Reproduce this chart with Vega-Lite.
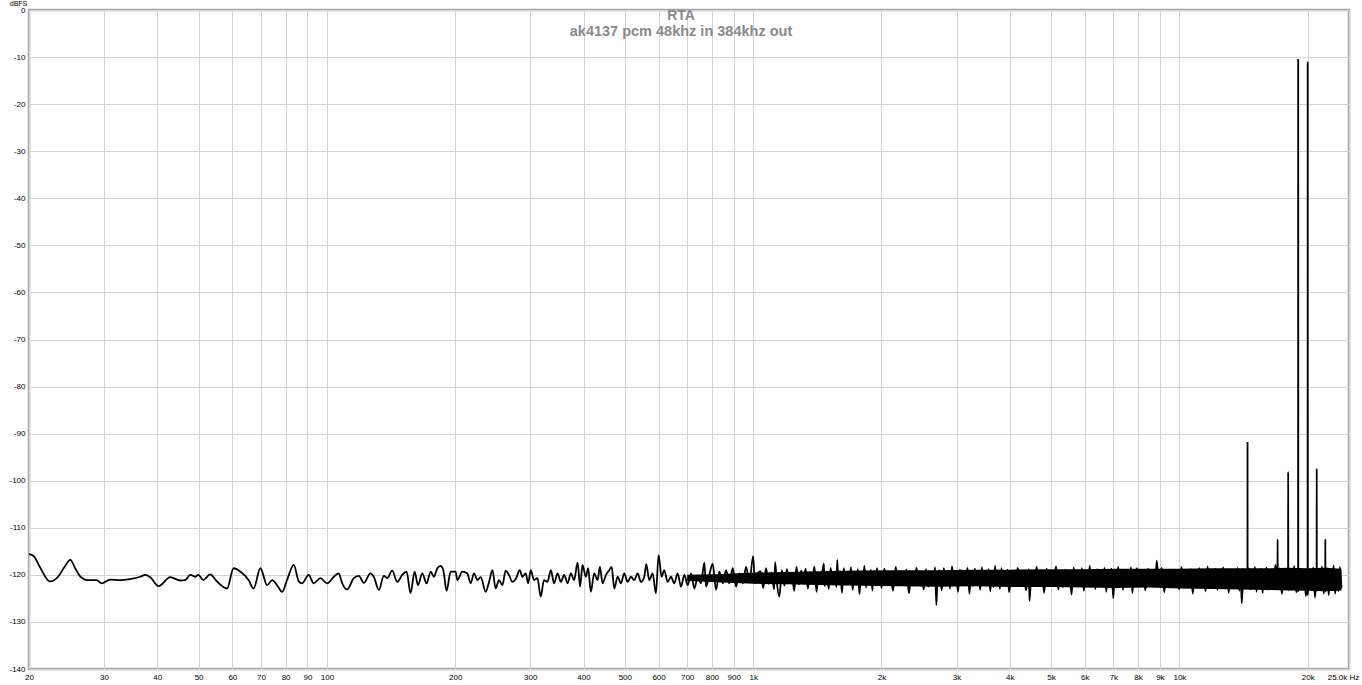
{
"$schema": "https://vega.github.io/schema/vega-lite/v6.json",
"width": 1320,
"height": 659,
"autosize": {"type": "none"},
"padding": {"left": 29, "top": 10, "right": 13, "bottom": 16},
"background": "#ffffff",
"config": {"view": {"stroke": "#a8a8a8", "strokeWidth": 2.5}, "font": "Liberation Sans"},
"title": {"text": "RTA", "subtitle": "ak4137 pcm 48khz in 384khz out", "anchor": "middle", "frame": "group", "offset": -39, "dx": -8, "color": "#8a8a8a", "subtitleColor": "#8a8a8a", "font": "Liberation Sans", "subtitleFont": "Liberation Sans", "fontSize": 14, "subtitleFontSize": 14.5, "fontWeight": "bold", "subtitleFontWeight": "bold", "subtitlePadding": 2},
"encoding": {
"x": {"field": "f", "type": "quantitative", "scale": {"type": "log", "domain": [20, 25000], "nice": false},
"axis": {"title": null, "values": [20,30,40,50,60,70,80,90,100,200,300,400,500,600,700,800,900,1000,2000,3000,4000,5000,6000,7000,8000,9000,10000,20000,25000], "labelExpr": "datum.value == 25000 ? '25.0k Hz' : (datum.value >= 1000 ? (datum.value / 1000) + 'k' : datum.value + '')", "grid": true, "gridColor": "#d3d3d3", "gridWidth": 1, "ticks": false, "domain": false, "labelFontSize": 8, "labelColor": "#000000", "labelPadding": 4, "labelOverlap": false, "labelFlush": false, "labelBound": false, "labelFont": "Liberation Sans", "labelOffset": {"condition": {"test": "datum.value == 25000", "value": -6}, "value": 0}}}
},
"layer": [
{
"data": {"values": [
{"f":700,"hi":-120.0,"lo":-121.3},{"f":850,"hi":-119.8,"lo":-121.6},{"f":1000,"hi":-119.5,"lo":-121.9},{"f":1200,"hi":-119.4,"lo":-122.0},{"f":1500,"hi":-119.2,"lo":-122.2},{"f":1800,"hi":-119.1,"lo":-122.3},{"f":2200,"hi":-119.0,"lo":-122.4},{"f":2700,"hi":-119.0,"lo":-122.5},{"f":3300,"hi":-118.9,"lo":-122.4},{"f":4000,"hi":-118.9,"lo":-122.6},{"f":5000,"hi":-118.8,"lo":-122.6},{"f":6000,"hi":-118.8,"lo":-122.7},{"f":7000,"hi":-118.7,"lo":-122.8},{"f":8500,"hi":-118.7,"lo":-122.7},{"f":10000,"hi":-118.7,"lo":-122.9},{"f":12000,"hi":-118.6,"lo":-123.0},{"f":14000,"hi":-118.6,"lo":-123.1},{"f":16000,"hi":-118.6,"lo":-123.2},{"f":18000,"hi":-118.5,"lo":-123.3},{"f":20000,"hi":-118.6,"lo":-123.4},{"f":22000,"hi":-118.5,"lo":-123.5},{"f":24000,"hi":-118.7,"lo":-123.3}
]},
"mark": {"type": "area", "color": "#000000", "clip": true},
"encoding": {
"y": {"field": "hi", "type": "quantitative", "scale": {"domain": [-140, 0], "nice": false},
"axis": {"title": "dBFS", "titleAngle": 0, "titleX": -11, "titleY": -5, "titleAlign": "center", "titleBaseline": "alphabetic", "titleFontSize": 7, "titleFontWeight": "normal", "titleColor": "#000000", "titleFont": "Liberation Sans", "values": [0,-10,-20,-30,-40,-50,-60,-70,-80,-90,-100,-110,-120,-130,-140], "labelExpr": "'' + datum.value", "grid": true, "gridColor": "#d3d3d3", "gridWidth": 1, "ticks": false, "domain": false, "labelFontSize": 8, "labelColor": "#000000", "labelPadding": 4, "labelOverlap": false, "labelFont": "Liberation Sans"}},
"y2": {"field": "lo"}
}
},
{
"data": {"values": [
{"f":20,"v":-115.6},{"f":20.5,"v":-116.0},{"f":21.2,"v":-118.3},{"f":22.4,"v":-121.4},{"f":23.4,"v":-120.4},{"f":24.2,"v":-118.4},{"f":25.0,"v":-116.8},{"f":25.7,"v":-118.7},{"f":26.4,"v":-120.4},{"f":27.3,"v":-121.1},{"f":28.8,"v":-121.1},{"f":29.6,"v":-121.8},{"f":31.0,"v":-121.0},{"f":32.7,"v":-121.1},{"f":34.5,"v":-120.9},{"f":36.5,"v":-120.4},{"f":37.5,"v":-120.0},{"f":38.5,"v":-120.5},{"f":40.3,"v":-122.4},{"f":42.9,"v":-120.5},{"f":45.3,"v":-121.2},{"f":46.5,"v":-121.1},{"f":47.8,"v":-120.0},{"f":49.1,"v":-120.4},{"f":49.9,"v":-120.0},{"f":51.3,"v":-121.1},{"f":53.2,"v":-119.9},{"f":55.2,"v":-121.4},{"f":58.3,"v":-122.9},{"f":60.4,"v":-118.6},{"f":62.6,"v":-119.3},{"f":65.5,"v":-121.1},{"f":67.3,"v":-122.9},{"f":69.8,"v":-118.6},{"f":72.4,"v":-122.2},{"f":74.4,"v":-121.1},{"f":76.4,"v":-122.2},{"f":78.5,"v":-123.6},{"f":80.6,"v":-121.1},{"f":83.6,"v":-117.9},{"f":85.9,"v":-121.4},{"f":87.4,"v":-121.8},{"f":90.6,"v":-120.0},{"f":93.1,"v":-121.8},{"f":96.5,"v":-120.7},
{"f":100.1,"v":-121.8},{"f":103.8,"v":-120.4},{"f":106.6,"v":-119.7},{"f":108.6,"v":-121.8},{"f":111.6,"v":-123.1},{"f":115.6,"v":-120.7},{"f":118.8,"v":-120.2},{"f":122.1,"v":-121.7},{"f":126.5,"v":-119.7},{"f":128.8,"v":-120.4},{"f":132.4,"v":-123.2},{"f":136.0,"v":-120.2},{"f":138.5,"v":-120.7},{"f":142.3,"v":-119.1},{"f":146.2,"v":-121.5},{"f":150.2,"v":-120.0},{"f":153.8,"v":-119.3},{"f":157.1,"v":-123.9},{"f":160.6,"v":-119.3},{"f":163.5,"v":-122.2},{"f":167.4,"v":-119.7},{"f":171.3,"v":-121.8},{"f":175.1,"v":-119.3},{"f":178.3,"v":-120.4},{"f":181.6,"v":-118.6},{"f":184.8,"v":-118.1},{"f":187.5,"v":-119.0},{"f":190.9,"v":-123.4},{"f":195.1,"v":-119.3},{"f":200.4,"v":-119.3},{"f":202.3,"v":-121.1},{"f":207.8,"v":-119.3},{"f":213.5,"v":-119.7},{"f":217.4,"v":-121.8},{"f":221.3,"v":-119.7},{"f":225.5,"v":-121.1},{"f":229.5,"v":-120.5},{"f":235.8,"v":-123.6},{"f":240.1,"v":-121.5},{"f":244.5,"v":-119.0},{"f":248.8,"v":-122.9},{"f":253.3,"v":-121.1},{"f":258.0,"v":-122.2},{"f":262.6,"v":-119.1},{"f":267.3,"v":-120.0},{"f":272.3,"v":-121.5},{"f":277.3,"v":-120.9},{"f":283.4,"v":-119.0},{"f":287.6,"v":-120.4},{"f":292.8,"v":-119.7},{"f":296.5,"v":-121.8},
{"f":300.8,"v":-119.0},{"f":306.2,"v":-121.1},{"f":311.8,"v":-120.7},{"f":317.4,"v":-124.6},{"f":323.1,"v":-121.1},{"f":329.2,"v":-121.5},{"f":335.2,"v":-119.0},{"f":341.2,"v":-121.8},{"f":347.6,"v":-119.7},{"f":353.9,"v":-121.5},{"f":360.3,"v":-120.0},{"f":366.9,"v":-121.8},{"f":373.5,"v":-119.7},{"f":380.2,"v":-121.1},{"f":387.3,"v":-117.4},{"f":392.7,"v":-122.5},{"f":397.8,"v":-117.9},{"f":405.0,"v":-120.4},{"f":410.1,"v":-118.6},{"f":416.1,"v":-123.6},{"f":423.7,"v":-119.7},{"f":431.6,"v":-121.1},{"f":437.0,"v":-118.3},{"f":443.4,"v":-121.8},{"f":451.5,"v":-120.0},{"f":459.7,"v":-119.0},{"f":465.6,"v":-118.3},{"f":472.2,"v":-122.9},{"f":480.9,"v":-120.4},{"f":489.5,"v":-121.8},{"f":498.4,"v":-119.7},{"f":507.7,"v":-121.5},{"f":516.7,"v":-120.4},{"f":526.1,"v":-121.1},{"f":535.8,"v":-119.7},{"f":545.5,"v":-121.5},{"f":555.4,"v":-120.4},{"f":561.4,"v":-117.7},{"f":570.5,"v":-121.1},{"f":581.0,"v":-119.7},{"f":591.4,"v":-123.9},{"f":600,"v":-115.8},{"f":609.8,"v":-120.4},{"f":618.5,"v":-119.0},{"f":630.0,"v":-121.5},{"f":641.4,"v":-120.4},{"f":653.0,"v":-121.8},{"f":665.0,"v":-119.7},{"f":677.2,"v":-122.5},{"f":689.5,"v":-120.0},{"f":702.3,"v":-122.2},{"f":714.9,"v":-119.7},{"f":727.8,"v":-122.9},{"f":741.4,"v":-120.4},{"f":754.6,"v":-121.8},{"f":768.2,"v":-117.4},{"f":775.3,"v":-122.5},{"f":789.2,"v":-120.0},{"f":803.8,"v":-117.6},{"f":818.4,"v":-123.2},{"f":833.0,"v":-119.3},{"f":848.6,"v":-121.8},{"f":863.8,"v":-119.0},{"f":879.4,"v":-121.8},{"f":895.6,"v":-118.6},{"f":911.6,"v":-122.5},{"f":928.2,"v":-119.7},{"f":945.4,"v":-121.8},{"f":962.4,"v":-118.3},{"f":979.8,"v":-121.5},{"f":1000,"v":-116.0},{"f":1010,"v":-121.8},{"f":1025,"v":-119.7},
{"f":1040,"v":-119.2},{"f":1056,"v":-122.8},{"f":1072,"v":-118.6},{"f":1088,"v":-121.9},{"f":1104,"v":-119.5},{"f":1120,"v":-123.1},{"f":1126,"v":-117.3},{"f":1136,"v":-121.4},{"f":1152,"v":-124.6},{"f":1168,"v":-119.0},{"f":1184,"v":-122.3},{"f":1200,"v":-118.8},{"f":1216,"v":-121.6},{"f":1232,"v":-119.6},{"f":1248,"v":-123.4},{"f":1264,"v":-118.3},{"f":1280,"v":-122.0},{"f":1296,"v":-119.1},{"f":1312,"v":-121.2},{"f":1328,"v":-118.7},{"f":1344,"v":-122.9},{"f":1360,"v":-119.4},{"f":1376,"v":-121.8},{"f":1392,"v":-118.2},{"f":1408,"v":-123.6},{"f":1424,"v":-119.8},{"f":1440,"v":-121.5},{"f":1456,"v":-118.9},{"f":1465,"v":-117.6},{"f":1472,"v":-122.4},{"f":1488,"v":-119.3},{"f":1504,"v":-123.0},{"f":1520,"v":-118.5},{"f":1536,"v":-121.7},{"f":1552,"v":-119.7},{"f":1568,"v":-122.6},{"f":1575,"v":-116.8},{"f":1584,"v":-121.3},{"f":1600,"v":-119.2},{"f":1616,"v":-123.8},{"f":1632,"v":-118.6},{"f":1648,"v":-122.1},{"f":1664,"v":-119.9},{"f":1680,"v":-121.6},{"f":1696,"v":-118.4},{"f":1712,"v":-123.2},{"f":1728,"v":-119.5},{"f":1744,"v":-122.0},{"f":1760,"v":-118.8},{"f":1776,"v":-124.1},{"f":1792,"v":-119.3},{"f":1808,"v":-121.4},{"f":1824,"v":-118.1},{"f":1840,"v":-122.7},{"f":1856,"v":-119.6},{"f":1872,"v":-121.9},{"f":1888,"v":-118.9},{"f":1904,"v":-123.3},{"f":1920,"v":-119.1},{"f":1936,"v":-122.2},{"f":1952,"v":-118.6},{"f":1968,"v":-121.5},{"f":1984,"v":-119.4},{"f":2000,"v":-122.8},
{"f":2032,"v":-118.7},{"f":2064,"v":-121.8},{"f":2096,"v":-119.5},{"f":2128,"v":-123.4},{"f":2160,"v":-118.3},{"f":2192,"v":-122.1},{"f":2224,"v":-119.2},{"f":2256,"v":-121.4},{"f":2288,"v":-118.9},{"f":2320,"v":-123.9},{"f":2352,"v":-119.7},{"f":2384,"v":-122.3},{"f":2416,"v":-118.5},{"f":2448,"v":-121.6},{"f":2480,"v":-119.3},{"f":2512,"v":-123.1},{"f":2544,"v":-118.8},{"f":2576,"v":-122.5},{"f":2608,"v":-119.6},{"f":2640,"v":-121.9},{"f":2672,"v":-118.4},{"f":2690,"v":-126.4},{"f":2704,"v":-122.0},{"f":2736,"v":-119.0},{"f":2768,"v":-123.3},{"f":2800,"v":-118.6},{"f":2832,"v":-121.7},{"f":2864,"v":-119.8},{"f":2896,"v":-122.9},{"f":2928,"v":-118.2},{"f":2960,"v":-121.5},{"f":2992,"v":-119.4},{"f":3024,"v":-123.6},{"f":3056,"v":-118.9},{"f":3088,"v":-122.2},{"f":3120,"v":-119.1},{"f":3152,"v":-121.3},{"f":3184,"v":-118.5},{"f":3216,"v":-124.0},{"f":3248,"v":-119.5},{"f":3280,"v":-122.4},{"f":3312,"v":-118.7},{"f":3344,"v":-121.8},{"f":3376,"v":-119.2},{"f":3408,"v":-123.2},{"f":3440,"v":-118.4},{"f":3472,"v":-122.0},{"f":3504,"v":-119.7},{"f":3536,"v":-121.6},{"f":3568,"v":-118.8},{"f":3600,"v":-123.5},{"f":3632,"v":-119.3},{"f":3664,"v":-122.6},{"f":3696,"v":-118.1},{"f":3728,"v":-121.9},{"f":3760,"v":-119.0},{"f":3792,"v":-123.0},{"f":3824,"v":-118.6},{"f":3856,"v":-122.3},{"f":3888,"v":-119.6},{"f":3920,"v":-121.4},{"f":3952,"v":-118.9},{"f":3984,"v":-123.7},
{"f":4048,"v":-119.2},{"f":4112,"v":-122.1},{"f":4176,"v":-118.5},{"f":4240,"v":-121.7},{"f":4304,"v":-119.4},{"f":4368,"v":-123.3},{"f":4432,"v":-118.8},{"f":4450,"v":-125.5},{"f":4496,"v":-119.9},{"f":4560,"v":-122.4},{"f":4624,"v":-118.3},{"f":4688,"v":-121.5},{"f":4752,"v":-119.1},{"f":4816,"v":-123.8},{"f":4880,"v":-118.7},{"f":4944,"v":-122.0},{"f":5008,"v":-119.5},{"f":5072,"v":-121.3},{"f":5136,"v":-118.2},{"f":5200,"v":-123.1},{"f":5264,"v":-119.3},{"f":5328,"v":-122.6},{"f":5392,"v":-118.9},{"f":5456,"v":-121.8},{"f":5520,"v":-119.7},{"f":5584,"v":-124.2},{"f":5648,"v":-118.4},{"f":5712,"v":-122.2},{"f":5776,"v":-119.0},{"f":5840,"v":-121.6},{"f":5904,"v":-118.6},{"f":5968,"v":-123.4},{"f":6032,"v":-119.4},{"f":6096,"v":-122.5},{"f":6160,"v":-118.1},{"f":6224,"v":-121.9},{"f":6288,"v":-119.2},{"f":6352,"v":-123.0},{"f":6416,"v":-118.8},{"f":6480,"v":-122.3},{"f":6544,"v":-119.6},{"f":6608,"v":-121.4},{"f":6672,"v":-118.5},{"f":6736,"v":-123.6},{"f":6800,"v":-119.1},{"f":6864,"v":-122.0},{"f":6928,"v":-118.7},{"f":6998,"v":-125.0},{"f":7056,"v":-119.3},{"f":7120,"v":-122.7},{"f":7184,"v":-118.3},{"f":7248,"v":-121.7},{"f":7312,"v":-119.5},{"f":7376,"v":-123.2},{"f":7440,"v":-118.9},{"f":7504,"v":-122.1},{"f":7568,"v":-119.8},{"f":7632,"v":-121.5},{"f":7696,"v":-118.4},{"f":7760,"v":-123.9},{"f":7824,"v":-119.0},{"f":7888,"v":-122.4},{"f":7952,"v":-118.6},
{"f":8064,"v":-121.8},{"f":8192,"v":-119.3},{"f":8320,"v":-123.3},{"f":8448,"v":-118.7},{"f":8576,"v":-122.0},{"f":8704,"v":-119.6},{"f":8776,"v":-122.5},{"f":8846,"v":-117.0},{"f":8960,"v":-121.6},{"f":9088,"v":-118.5},{"f":9216,"v":-123.7},{"f":9344,"v":-119.2},{"f":9472,"v":-122.3},{"f":9600,"v":-118.9},{"f":9728,"v":-121.4},{"f":9856,"v":-119.4},{"f":9984,"v":-123.1},{"f":10112,"v":-118.3},{"f":10240,"v":-122.5},{"f":10368,"v":-119.7},{"f":10496,"v":-121.9},{"f":10624,"v":-118.8},{"f":10752,"v":-124.0},{"f":10880,"v":-119.1},{"f":11008,"v":-122.2},{"f":11136,"v":-118.6},{"f":11264,"v":-121.5},{"f":11392,"v":-119.5},{"f":11520,"v":-123.5},{"f":11648,"v":-118.2},{"f":11776,"v":-122.6},{"f":11904,"v":-119.0},{"f":12032,"v":-121.8},{"f":12160,"v":-118.7},{"f":12288,"v":-123.2},{"f":12416,"v":-119.3},{"f":12544,"v":-122.0},{"f":12672,"v":-118.4},{"f":12800,"v":-121.6},{"f":12928,"v":-119.6},{"f":13056,"v":-123.8},{"f":13184,"v":-118.9},{"f":13312,"v":-122.4},{"f":13440,"v":-119.2},{"f":13568,"v":-121.7},{"f":13696,"v":-118.5},{"f":13824,"v":-123.4},{"f":13916,"v":-118.9},{"f":14008,"v":-126.0},{"f":14144,"v":-118.8},{"f":14272,"v":-122.7},{"f":14400,"v":-119.0},{"f":14445,"v":-121.0},{"f":14450,"v":-91.8},{"f":14455,"v":-122.5},{"f":14528,"v":-118.6},{"f":14656,"v":-123.1},{"f":14784,"v":-119.5},{"f":14912,"v":-122.1},{"f":15040,"v":-118.3},{"f":15168,"v":-123.6},{"f":15296,"v":-119.1},{"f":15424,"v":-121.9},{"f":15552,"v":-118.7},{"f":15680,"v":-123.9},{"f":15808,"v":-119.3},{"f":15936,"v":-122.4},
{"f":16000,"v":-118.4},{"f":16200,"v":-123.2},{"f":16400,"v":-119.0},{"f":16600,"v":-122.6},{"f":16800,"v":-117.9},{"f":16990,"v":-121.5},{"f":17000,"v":-112.4},{"f":17010,"v":-123.0},{"f":17200,"v":-118.6},{"f":17400,"v":-124.1},{"f":17600,"v":-119.2},{"f":17800,"v":-122.8},{"f":17990,"v":-118.5},{"f":18000,"v":-98.1},{"f":18010,"v":-123.3},{"f":18200,"v":-119.4},{"f":18400,"v":-122.2},{"f":18600,"v":-118.1},{"f":18800,"v":-123.7},{"f":18990,"v":-119.0},{"f":19000,"v":-10.4},{"f":19010,"v":-123.5},{"f":19200,"v":-118.7},{"f":19400,"v":-122.9},{"f":19600,"v":-119.3},{"f":19800,"v":-124.5},{"f":19990,"v":-118.8},{"f":20000,"v":-11.0},{"f":20010,"v":-124.2},{"f":20200,"v":-119.1},{"f":20400,"v":-123.0},{"f":20600,"v":-118.4},{"f":20800,"v":-124.8},{"f":20990,"v":-118.9},{"f":21000,"v":-97.4},{"f":21010,"v":-123.4},{"f":21200,"v":-119.5},{"f":21400,"v":-122.7},{"f":21600,"v":-118.2},{"f":21800,"v":-124.0},{"f":21990,"v":-119.0},{"f":22000,"v":-112.4},{"f":22010,"v":-123.6},{"f":22200,"v":-118.6},{"f":22400,"v":-124.3},{"f":22600,"v":-119.2},{"f":22800,"v":-123.1},{"f":23000,"v":-118.0},{"f":23200,"v":-124.0},{"f":23400,"v":-119.4},{"f":23600,"v":-123.5},{"f":23800,"v":-118.3},{"f":24000,"v":-122.8}
]},
"mark": {"type": "line", "color": "#000000", "strokeWidth": 1.8, "interpolate": "monotone", "clip": true},
"encoding": {
"y": {"field": "v", "type": "quantitative", "scale": {"domain": [-140, 0], "nice": false},
"axis": {"title": "dBFS", "titleAngle": 0, "titleX": -11, "titleY": -5, "titleAlign": "center", "titleBaseline": "alphabetic", "titleFontSize": 7, "titleFontWeight": "normal", "titleColor": "#000000", "titleFont": "Liberation Sans", "values": [0,-10,-20,-30,-40,-50,-60,-70,-80,-90,-100,-110,-120,-130,-140], "labelExpr": "'' + datum.value", "grid": true, "gridColor": "#d3d3d3", "gridWidth": 1, "ticks": false, "domain": false, "labelFontSize": 8, "labelColor": "#000000", "labelPadding": 4, "labelOverlap": false, "labelFont": "Liberation Sans"}}
}
},
{
"data": {"values": [{"label": "Distortion N/A"}]},
"mark": {"type": "rect", "fill": "#ffffff", "stroke": "#9a9a9a", "strokeWidth": 2, "cornerRadius": 8},
"encoding": {"x": {"datum": 25.2}, "x2": {"datum": 34.2}, "y": {"datum": -0.57}, "y2": {"datum": -4.25}}
},
{
"data": {"values": [{"label": "Distortion N/A"}]},
"mark": {"type": "text", "fontSize": 7, "color": "#000000", "font": "Liberation Sans"},
"encoding": {"x": {"datum": 29.4}, "y": {"datum": -2.4}, "text": {"field": "label"}}
}
]
}
